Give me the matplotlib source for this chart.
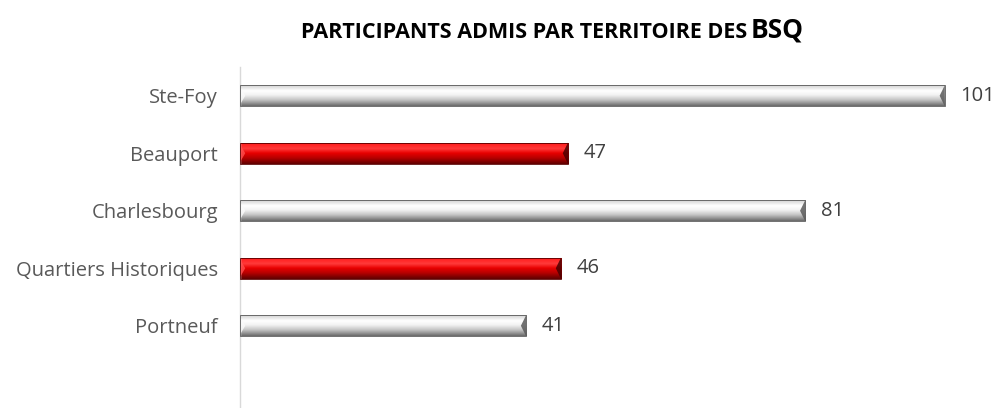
import numpy as np
import matplotlib
matplotlib.use("Agg")
import matplotlib.pyplot as plt
from matplotlib.colors import LinearSegmentedColormap
from matplotlib.patches import Polygon

# Données
territoires = ["Ste-Foy", "Beauport", "Charlesbourg", "Quartiers Historiques", "Portneuf"]
participants = [101, 47, 81, 46, 41]
couleurs = ["gris", "rouge", "gris", "rouge", "gris"]

# Dégradés verticaux (du haut vers le bas) pour l'effet biseauté
DEGRADES = {
    "gris": LinearSegmentedColormap.from_list("gris", [
        (0.0, "#8a8a8a"), (0.08, "#d8d8d8"), (0.3, "#ffffff"), (0.5, "#f2f2f2"),
        (0.72, "#c4c4c4"), (0.9, "#8c8c8c"), (1.0, "#6a6a6a")]),
    "rouge": LinearSegmentedColormap.from_list("rouge", [
        (0.0, "#b00000"), (0.08, "#ff2020"), (0.3, "#ff3a3a"), (0.5, "#e80000"),
        (0.72, "#b80000"), (0.9, "#800000"), (1.0, "#600000")]),
}
FACETTES = {"gris": ("#fbfbfb", "#5a5a5a"), "rouge": ("#ff5050", "#4a0000")}

plt.rcParams["font.family"] = ["Open Sans", "DejaVu Sans"]

fig = plt.figure(figsize=(10, 4.08), dpi=100, facecolor="white")
ax = fig.add_axes([0.24, -0.0098, 0.76, 0.8456])

hauteur = 0.37
ys = np.arange(len(territoires))
grad = np.linspace(0, 1, 64).reshape(-1, 1)

for y, v, c in zip(ys, participants, couleurs):
    rect = ax.barh(y, v, height=hauteur, color="none", edgecolor="none")[0]
    im = ax.imshow(grad, cmap=DEGRADES[c], aspect="auto", interpolation="bilinear",
                   extent=(0, v, y + hauteur / 2, y - hauteur / 2), zorder=2)
    im.set_clip_path(rect)
    # facettes des extrémités (biseau)
    b = 0.75
    clair, fonce = FACETTES[c]
    ax.add_patch(Polygon([(0, y - hauteur / 2 + 0.03), (b, y), (0, y + hauteur / 2 - 0.03)],
                         closed=True, color=clair, alpha=0.8, zorder=3, lw=0))
    ax.add_patch(Polygon([(v, y - hauteur / 2), (v - b, y), (v, y + hauteur / 2)],
                         closed=True, color=fonce, alpha=0.85, zorder=3, lw=0))
    ax.add_patch(plt.Rectangle((0, y - hauteur / 2), v, hauteur, fill=False,
                               edgecolor="#5a5a5a" if c == "gris" else "#5a0000",
                               lw=0.6, zorder=4))
    ax.annotate(str(v), (v, y), xytext=(11, 0), textcoords="offset points",
                va="center", ha="left", fontsize=14.5, color="#404040")

ax.set_xlim(0, 108.9)
ax.set_ylim(5.5, -0.5)
ax.set_yticks(ys)
ax.set_yticklabels(territoires, fontsize=14.5, color="#595959")
ax.tick_params(axis="y", length=0, pad=16)
ax.set_xticks([])
for s in ["top", "right", "bottom"]:
    ax.spines[s].set_visible(False)
ax.spines["left"].set_color("#d9d9d9")
ax.spines["left"].set_linewidth(1)

fig.text(0.747, 0.907, "PARTICIPANTS ADMIS PAR TERRITOIRE DES", ha="right", va="baseline",
         fontsize=15.5, fontweight="bold", color="black")
fig.text(0.751, 0.907, "BSQ", ha="left", va="baseline",
         fontsize=19, fontweight="bold", color="black")

fig.savefig("out.png", dpi=100, facecolor="white")
